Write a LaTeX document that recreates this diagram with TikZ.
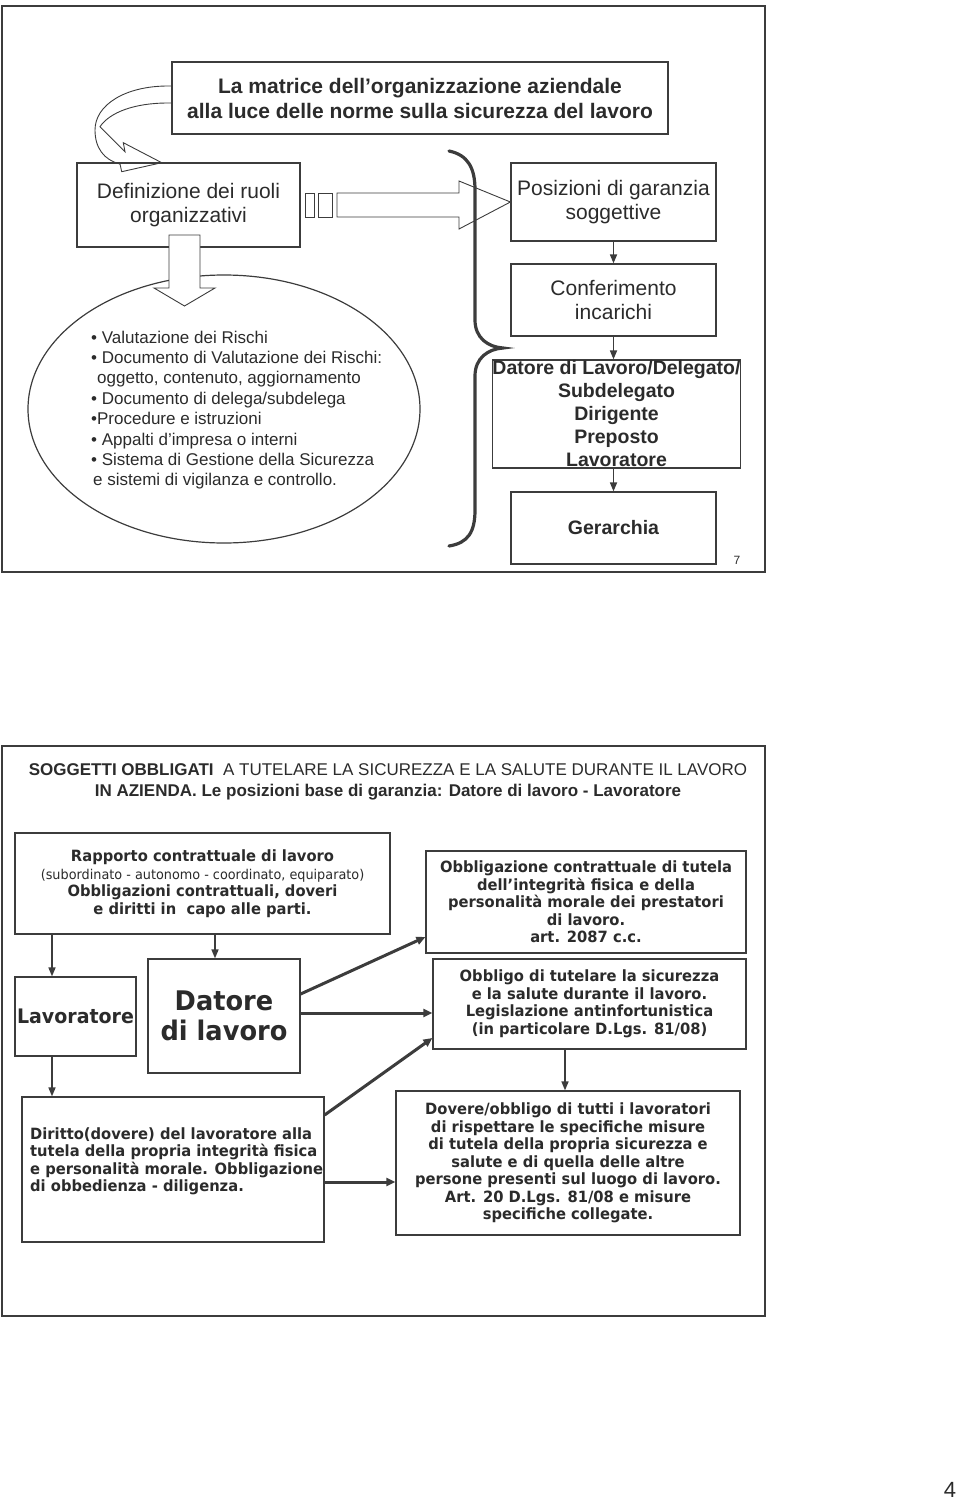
\documentclass[tikz,border=0pt]{standalone}
\usepackage{fontspec}
\setmainfont{Liberation Sans}
\newfontfamily\tahfont[FakeStretch=0.95]{DejaVu Sans}
\usetikzlibrary{arrows.meta,shapes.geometric}
\definecolor{inkc}{HTML}{2B2B2B}
\definecolor{linec}{HTML}{3C3C3C}

\begin{document}
\begin{tikzpicture}[x=1pt, y=-1pt, every node/.style={text=inkc},
  box/.style={draw=linec, line width=1.2pt, fill=white, inner sep=0pt, align=center},
  frame/.style={draw=linec, line width=2.7pt},
  blockarrow/.style={draw=linec, line width=0.9pt, fill=white, line join=miter},
  thinarrow/.style={draw=linec, line width=1.6pt, -{Triangle[length=9pt,width=7pt]}},
  thickarrow/.style={draw=linec, line width=3pt, -{Triangle[length=9pt,width=8pt]}},
  topfont/.style={font=\fontsize{21}{24}\selectfont},
  botfont/.style={font=\tahfont\bfseries\fontsize{15.5}{17.5}\selectfont}]
  \useasboundingbox (0,0) rectangle (960,1501);

  % first slide
  \draw[frame] (2,6) rectangle (765,572);
  % freccia curva
  \draw[draw=linec, line width=0.9pt, line join=miter] (176,86) -- (168,86) .. controls (125,86) and (95,105) .. (95,130)
    .. controls (95,148) and (104,160) .. (120,164) -- (121.7,171.7) -- (161.7,162.7)
    -- (123.3,142.7) -- (125,151.7) -- (100,126.7) .. controls (110,112) and (135,103) .. (168,103) -- (176,103);
  \node[box, minimum width=496pt, minimum height=72pt, font=\bfseries\fontsize{21}{25}\selectfont] (titolo) at (420,98)
    {La matrice dell’organizzazione aziendale\\alla luce delle norme sulla sicurezza del lavoro};
  \node[box, topfont, minimum width=223pt, minimum height=84pt, fill=none] (ruoli) at (188.5,205) {Definizione dei ruoli\\organizzativi};
  \node[box, topfont, minimum width=205pt, minimum height=78pt] (posiz) at (613.5,202) {Posizioni di garanzia\\soggettive};
  \node[box, topfont, minimum width=205pt, minimum height=72pt] (confer) at (613.5,300) {Conferimento\\incarichi};
  \node[box, font=\bfseries\fontsize{19.5}{23}\selectfont, minimum width=247pt, minimum height=108pt] (datlav) at (616.5,414)
    {Datore di Lavoro/Delegato/\\Subdelegato\\Dirigente\\Preposto\\Lavoratore};
  \node[box, font=\bfseries\fontsize{19.5}{24}\selectfont, minimum width=205pt, minimum height=72pt] (gerar) at (613.5,528) {Gerarchia};
  \node[font=\fontsize{12}{14}\selectfont] (pag7) at (737,560) {7};

  % cerchio con l'elenco
  \node[ellipse, draw=linec, line width=1.2pt, minimum width=392pt, minimum height=268pt] (cerchio) at (224,409) {};
  \node[font=\fontsize{17}{20.4}\selectfont, align=left, anchor=west, inner sep=0pt] (elenco) at (91,410)
    {• Valutazione dei Rischi\\
     • Documento di Valutazione dei Rischi:\\
     \hspace*{6pt}oggetto, contenuto, aggiornamento\\
     • Documento di delega/subdelega\\
     •Procedure e istruzioni\\
     • Appalti d’impresa o interni\\
     • Sistema di Gestione della Sicurezza\\
     \hspace*{2pt}e sistemi di vigilanza e controllo.};

  % frecce a blocco
  \draw[blockarrow] (169,235) -- (200,235) -- (200,288) -- (215,288) -- (184.5,306)
    -- (154,288) -- (169,288) -- cycle;
  \draw[blockarrow] (305,193) rectangle (314,217);
  \draw[blockarrow] (318,193) rectangle (332,217);
  \draw[blockarrow] (337,193) -- (459,193) -- (459,181) -- (posiz.west) -- (459,229)
    -- (459,217) -- (337,217) -- cycle;

  % graffa
  \draw[draw=linec, line width=3.2pt, line cap=round]
    (449,151) .. controls (468,155) and (475,168) .. (475,190) -- (475,320)
    .. controls (475,338) and (488,347) .. (503,348)
    .. controls (488,349) and (475,358) .. (475,376) -- (475,510)
    .. controls (475,532) and (468,543) .. (449,546);

  \draw[thinarrow] (posiz.south) -- (confer.north);
  \draw[thinarrow] (confer.south) -- (datlav.north -| confer.south);
  \draw[thinarrow] (datlav.south -| gerar.north) -- (gerar.north);

  % second slide
  \draw[frame] (2,746) rectangle (765,1316);
  \node[font=\fontsize{17}{21}\selectfont, align=center] (intesta) at (388,781.5)
    {\textbf{SOGGETTI OBBLIGATI}\ \ A TUTELARE LA SICUREZZA E LA SALUTE DURANTE IL LAVORO\\
     \textbf{IN AZIENDA. Le posizioni base di garanzia: Datore di lavoro - Lavoratore}};
  \node[box, botfont, minimum width=375pt, minimum height=101pt] (rapporto) at (202.5,883.5)
    {Rapporto contrattuale di lavoro\\
     {\mdseries\fontsize{13.5}{16.5}\selectfont (subordinato - autonomo - coordinato, equiparato)}\\
     Obbligazioni contrattuali, doveri\\e diritti in\ \ capo alle parti.};
  \node[box, botfont, minimum width=320pt, minimum height=102pt] (obbligaz) at (586,902)
    {Obbligazione contrattuale di tutela\\dell’integrità fisica e della\\personalità morale dei prestatori\\di lavoro.\\art. 2087 c.c.};
  \node[box, font=\tahfont\bfseries\fontsize{20}{22}\selectfont, minimum width=121pt, minimum height=79pt] (lavor) at (75.5,1016.5) {Lavoratore};
  \node[box, font=\tahfont\bfseries\fontsize{27}{30}\selectfont, minimum width=152pt, minimum height=114pt] (datore) at (224,1016) {Datore\\di lavoro};
  \node[box, botfont, minimum width=313pt, minimum height=90pt] (obbligo) at (589.5,1004)
    {Obbligo di tutelare la sicurezza\\e la salute durante il lavoro.\\Legislazione antinfortunistica\\(in particolare D.Lgs. 81/08)};
  \node[box, minimum width=302pt, minimum height=145pt] (diritto) at (173,1169.5) {};
  \node[botfont, align=left, anchor=west, inner sep=0pt] (dirtesto) at (30,1161.5)
    {Diritto(dovere) del lavoratore alla\\tutela della propria integrità fisica\\e personalità morale. Obbligazione\\di obbedienza - diligenza.};
  \node[box, botfont, minimum width=344pt, minimum height=144pt] (dovere) at (568,1163)
    {Dovere/obbligo di tutti i lavoratori\\di rispettare le specifiche misure\\di tutela della propria sicurezza e\\salute e di quella delle altre\\persone presenti sul luogo di lavoro.\\Art. 20 D.Lgs. 81/08 e misure\\specifiche collegate.};

  \draw[thinarrow] (rapporto.south -| 52,0) -- (lavor.north -| 52,0);
  \draw[thinarrow] (rapporto.south -| 215,0) -- (datore.north -| 215,0);
  \draw[thickarrow] (datore.east |- 0,994) -- (obbligaz.west |- 0,937);
  \draw[thickarrow] (datore.east |- 0,1013) -- (obbligo.west |- 0,1013);
  \draw[thickarrow] (diritto.east |- 0,1115) -- (obbligo.west |- 0,1038);
  \draw[thinarrow] (lavor.south -| 52,0) -- (diritto.north -| 52,0);
  \draw[thinarrow] (obbligo.south -| 565,0) -- (dovere.north -| 565,0);
  \draw[thickarrow] (diritto.east |- 0,1182) -- (dovere.west |- 0,1182);

  \node[font=\fontsize{22}{24}\selectfont] (pag4) at (950,1490) {4};
\end{tikzpicture}
\end{document}
